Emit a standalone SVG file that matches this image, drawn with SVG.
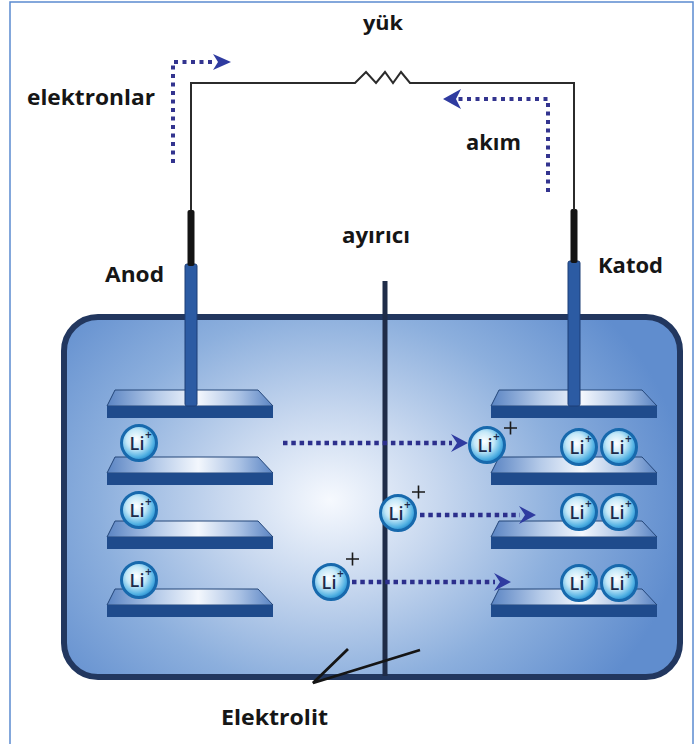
<svg xmlns="http://www.w3.org/2000/svg" xmlns:xlink="http://www.w3.org/1999/xlink" width="696" height="744" viewBox="0 0 696 744">
  <defs>
    <style>
      .lbl { font-family: "Open Sans", "Liberation Sans", sans-serif; font-weight: 700; fill: #161616; }
      .wire { fill: none; stroke: #2b2b2b; stroke-width: 2; }
      .dots { fill: none; stroke: #2c2f8c; stroke-width: 4.5; stroke-dasharray: 4.5 3.8; }
      .dots-s { fill: none; stroke: #33348f; stroke-width: 4; stroke-dasharray: 4 4.5; }
      .head { fill: #2f3ba0; }
      .band { fill: #1f4b8c; }
      .surf { fill: url(#surfGrad); stroke: #244679; stroke-width: 1; }
      .rod { fill: #2c5ba3; stroke: #1c3e77; stroke-width: 1; }
      .cap { fill: #141414; }
      .ion-c { fill: url(#ionGrad); stroke: #1769ad; stroke-width: 3; }
      .ion-t { font-family: "Open Sans", "Liberation Sans", sans-serif; font-weight: 600; fill: #1b2a4a; }
      .plus { fill: none; stroke: #1a1a1a; stroke-width: 1.6; }
    </style>
    <radialGradient id="cellGrad" gradientUnits="userSpaceOnUse" cx="330" cy="500" r="340" gradientTransform="translate(330 500) scale(1.05 0.85) translate(-330 -500)">
      <stop offset="0" stop-color="#f6f9fe"/>
      <stop offset="0.3" stop-color="#c8d8ef"/>
      <stop offset="0.65" stop-color="#8cafdd"/>
      <stop offset="1" stop-color="#608dce"/>
    </radialGradient>
    <linearGradient id="surfGrad" x1="0" y1="0" x2="1" y2="0">
      <stop offset="0" stop-color="#5a84c3"/>
      <stop offset="0.3" stop-color="#b6cbe9"/>
      <stop offset="0.55" stop-color="#f3f7fd"/>
      <stop offset="0.8" stop-color="#a9c1e4"/>
      <stop offset="1" stop-color="#5a84c3"/>
    </linearGradient>
    <radialGradient id="ionGrad" cx="0.42" cy="0.4" r="0.62">
      <stop offset="0" stop-color="#ffffff"/>
      <stop offset="0.45" stop-color="#c4e8f8"/>
      <stop offset="0.8" stop-color="#55b3e4"/>
      <stop offset="1" stop-color="#2189cb"/>
    </radialGradient>
    <!-- electrode plate: top face + front edge -->
    <g id="plate">
      <polygon class="surf" points="8,0 151,0 166,16 0,16"/>
      <rect class="band" x="0" y="16" width="166" height="12"/>
    </g>
    <!-- lithium ion -->
    <g id="ion">
      <circle class="ion-c" r="17.5"/>
      <text class="ion-t" x="-2" y="7" font-size="18" text-anchor="middle">Li</text>
      <text class="ion-t" x="9.5" y="-4" font-size="12" text-anchor="middle">+</text>
    </g>
    <path id="headR" d="M0,0 L-17,-9 L-11,0 L-17,9 Z"/>
  </defs>

  <!-- outer frame -->
  <rect x="10" y="2" width="683" height="780" fill="#ffffff" stroke="#5b8bd0" stroke-width="1.5"/>

  <!-- cell body -->
  <g id="cell">
    <rect x="64" y="317" width="616" height="360" rx="34" fill="url(#cellGrad)" stroke="#22375f" stroke-width="6"/>
  </g>

  <!-- separator -->
  <g id="separator">
    <line x1="385" y1="281" x2="385" y2="676" stroke="#1f2c48" stroke-width="5"/>
  </g>

  <!-- anode side -->
  <g id="anode">
    <use xlink:href="#plate" x="107" y="390"/>
    <use xlink:href="#plate" x="107" y="457"/>
    <use xlink:href="#plate" x="107" y="521"/>
    <use xlink:href="#plate" x="107" y="589"/>
    <rect class="rod" x="185" y="264" width="12" height="142" rx="2"/>
    <rect class="cap" x="187.5" y="210" width="7" height="56" rx="2"/>
  </g>

  <!-- cathode side -->
  <g id="cathode">
    <use xlink:href="#plate" x="491" y="390"/>
    <use xlink:href="#plate" x="491" y="457"/>
    <use xlink:href="#plate" x="491" y="521"/>
    <use xlink:href="#plate" x="491" y="589"/>
    <rect class="rod" x="568" y="261" width="12" height="145" rx="2"/>
    <rect class="cap" x="570.5" y="209" width="7" height="54" rx="2"/>
  </g>

  <!-- external circuit with load -->
  <g id="circuit">
    <path class="wire" d="M191,210 V83 H355 L366,72 L376,83 L385,72 L393,83 L401,72 L410,83 H574 V210"/>
  </g>

  <!-- ions -->
  <g id="ion-anode-1"><use xlink:href="#ion" x="139" y="443"/></g>
  <g id="ion-anode-2"><use xlink:href="#ion" x="139" y="510"/></g>
  <g id="ion-anode-3"><use xlink:href="#ion" x="139" y="580"/></g>

  <g id="ion-cathode-1a"><use xlink:href="#ion" x="579" y="447"/></g>
  <g id="ion-cathode-1b"><use xlink:href="#ion" x="619" y="447"/></g>
  <g id="ion-cathode-2a"><use xlink:href="#ion" x="579" y="512"/></g>
  <g id="ion-cathode-2b"><use xlink:href="#ion" x="619" y="512"/></g>
  <g id="ion-cathode-3a"><use xlink:href="#ion" x="579" y="583"/></g>
  <g id="ion-cathode-3b"><use xlink:href="#ion" x="619" y="583"/></g>

  <g id="ion-moving-1">
    <use xlink:href="#ion" x="487" y="445"/>
    <path class="plus" d="M504,428 h13 M510.5,421.5 v13"/>
  </g>
  <g id="ion-moving-2">
    <use xlink:href="#ion" x="398" y="513"/>
    <path class="plus" d="M412,492 h13 M418.5,485.5 v13"/>
  </g>
  <g id="ion-moving-3">
    <use xlink:href="#ion" x="331" y="582"/>
    <path class="plus" d="M346,559 h13 M352.5,552.5 v13"/>
  </g>

  <!-- flow arrows -->
  <g id="connectors">
    <!-- ion migration -->
    <line class="dots" x1="283" y1="443" x2="452" y2="443"/>
    <use class="head" xlink:href="#headR" x="468" y="443"/>
    <line class="dots" x1="420" y1="515" x2="520" y2="515"/>
    <use class="head" xlink:href="#headR" x="536" y="515"/>
    <line class="dots" x1="352" y1="582" x2="495" y2="582"/>
    <use class="head" xlink:href="#headR" x="511" y="582"/>
    <!-- electron flow -->
    <path class="dots-s" d="M173,163 V62 H213"/>
    <path class="head" d="M231,62 L213,54 L218,62 L213,70 Z"/>
    <!-- current flow -->
    <path class="dots-s" d="M548,192 V99 H458"/>
    <path class="head" d="M443,99 L461,89 L456,99 L461,109 Z"/>
  </g>

  <!-- electrolyte pointer -->
  <g id="electrolyte-pointer">
    <path d="M348,649 L313,683 L420,650" fill="none" stroke="#151515" stroke-width="2.8" stroke-linejoin="miter"/>
  </g>

  <!-- labels -->
  <g id="labels">
    <text class="lbl" x="363" y="30" font-size="19" textLength="40" lengthAdjust="spacingAndGlyphs">yük</text>
    <text class="lbl" x="27" y="105" font-size="21" textLength="128" lengthAdjust="spacingAndGlyphs">elektronlar</text>
    <text class="lbl" x="466" y="150" font-size="21" textLength="55" lengthAdjust="spacingAndGlyphs">akım</text>
    <text class="lbl" x="342" y="243" font-size="21" textLength="68" lengthAdjust="spacingAndGlyphs">ayırıcı</text>
    <text class="lbl" x="105" y="282" font-size="22" textLength="59" lengthAdjust="spacingAndGlyphs">Anod</text>
    <text class="lbl" x="598" y="273" font-size="22" textLength="65" lengthAdjust="spacingAndGlyphs">Katod</text>
    <text class="lbl" x="221" y="725" font-size="22" textLength="107" lengthAdjust="spacingAndGlyphs">Elektrolit</text>
  </g>
</svg>
